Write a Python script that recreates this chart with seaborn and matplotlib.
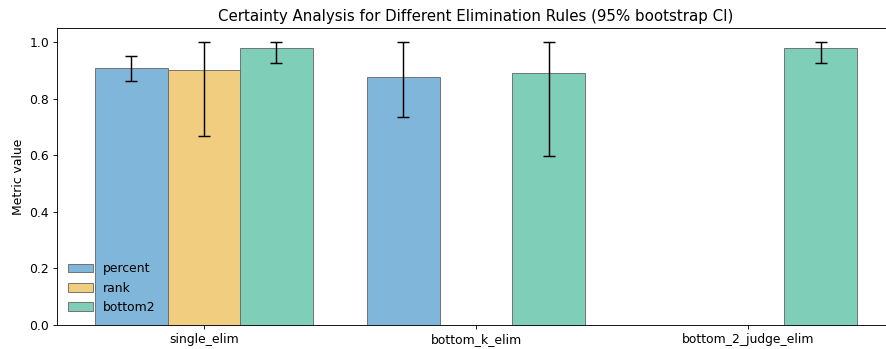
import numpy as np
import pandas as pd
import seaborn as sns
import matplotlib.pyplot as plt

rules = ['single_elim', 'bottom_k_elim', 'bottom_2_judge_elim']
methods = ['percent', 'rank', 'bottom2']

# mean values per method (None = not evaluated for that rule)
percent_mean = [0.910, 0.876, None]
rank_mean = [0.902, None, None]
bottom2_mean = [0.979, 0.891, 0.979]

# 95% bootstrap CI bounds
percent_lo = [0.864, 0.734, None]
percent_hi = [0.951, 1.000, None]
rank_lo = [0.667, None, None]
rank_hi = [1.000, None, None]
bottom2_lo = [0.927, 0.599, 0.927]
bottom2_hi = [1.000, 1.000, 1.000]

colors = {'percent': '#80b6d9', 'rank': '#f1ce7f', 'bottom2': '#7fceb8'}

series = {
    'percent': (percent_mean, percent_lo, percent_hi),
    'rank': (rank_mean, rank_lo, rank_hi),
    'bottom2': (bottom2_mean, bottom2_lo, bottom2_hi),
}

rows = []
for m in methods:
    means, los, his = series[m]
    for r, v, lo, hi in zip(rules, means, los, his):
        if v is not None:
            rows.append({'rule': r, 'method': m, 'value': v, 'lo': lo, 'hi': hi})
df = pd.DataFrame(rows)

plt.rcParams['font.size'] = 11.2

fig = plt.figure(figsize=(886 / 80, 349 / 80), dpi=80)
ax = fig.add_axes([57 / 886, 24 / 349, (895 - 57) / 886, (325 - 28) / 349])

sns.barplot(data=df, x='rule', y='value', hue='method', order=rules,
            hue_order=methods, palette=colors, saturation=1, errorbar=None,
            width=0.8, edgecolor='#6a6a6a', linewidth=0.8, ax=ax)

# error bars from the CI bounds, placed at the dodged bar centres
bw = 0.8 / len(methods)
for _, row in df.iterrows():
    xi = rules.index(row['rule']) + (methods.index(row['method']) - 1) * bw
    ax.errorbar(xi, row['value'],
                yerr=[[row['value'] - row['lo']], [row['hi'] - row['value']]],
                fmt='none', ecolor='black', elinewidth=1.3, capsize=5,
                capthick=1.3, zorder=5)

ax.set_xlim(-0.54, 2.54)
ax.set_ylim(0, 1.05)
ax.set_xlabel('')
ax.set_ylabel('Metric value')
ax.set_title('Certainty Analysis for Different Elimination Rules (95% bootstrap CI)',
             fontsize=13.5)
ax.legend(loc='lower left', frameon=False, bbox_to_anchor=(0.0, 0.0))

fig.savefig('out.png', dpi=80)
